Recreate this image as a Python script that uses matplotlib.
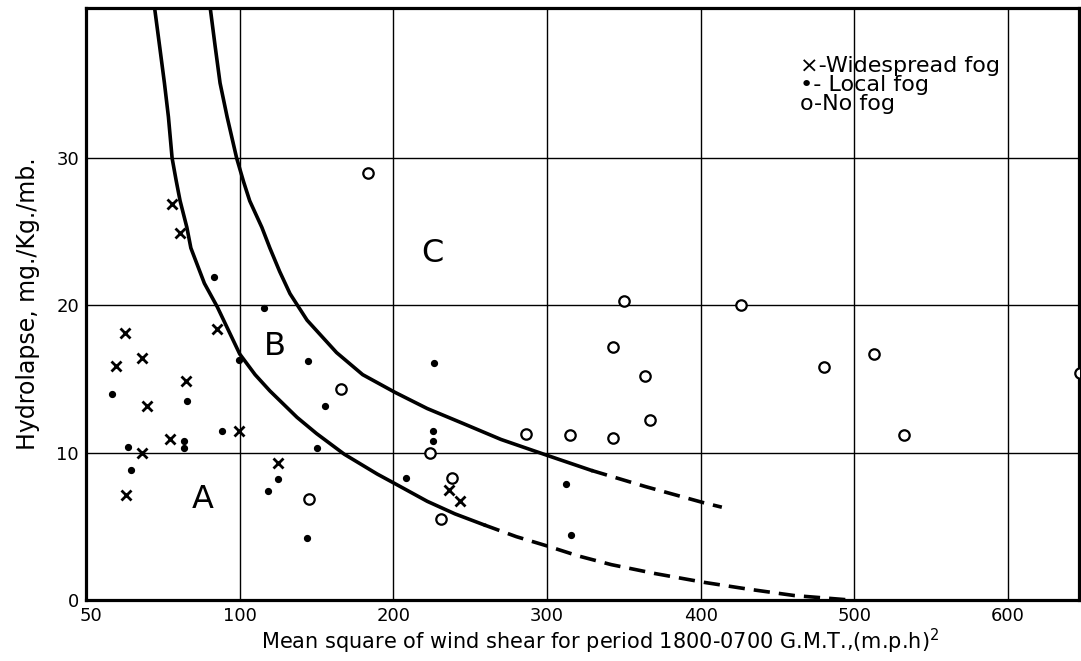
import numpy as np
import matplotlib.pyplot as plt
import matplotlib.transforms as mtrans

plt.rcParams['font.family'] = ['DejaVu Sans']

# observations (wind shear, hydrolapse)
wide_x = [62.7, 59.6, 68.2, 69.7, 82.5, 99.7, 77.4, 68.2, 63.1, 92.7, 78.0, 80.6, 124.8, 236.0, 243.5]
wide_y = [18.1, 15.9, 16.4, 13.2, 14.9, 11.5, 10.9, 10.0, 7.1, 18.4, 26.9, 24.9, 9.3, 7.5, 6.7]

local_x = [58.3, 82.8, 94.3, 81.8, 81.8, 63.7, 64.5, 91.7, 99.7, 115.7, 144.4, 155.6, 150.3,
           124.8, 118.3, 143.8, 226.5, 226.0, 226.0, 208.0, 312.0, 315.5]
local_y = [14.0, 13.5, 11.5, 10.8, 10.3, 10.4, 8.8, 21.9, 16.3, 19.8, 16.2, 13.2, 10.3,
           8.2, 7.4, 4.2, 16.1, 11.5, 10.8, 8.3, 7.9, 4.4]

nofog_x = [350.3, 343.0, 364.0, 367.0, 286.0, 315.0, 343.0, 165.6, 224.0, 238.0, 231.0,
           145.0, 183.5, 647.0, 426.0, 480.0, 513.0, 532.0]
nofog_y = [20.3, 17.2, 15.2, 12.2, 11.3, 11.2, 11.0, 14.3, 10.0, 8.3, 5.5,
           6.85, 29.0, 15.4, 20.0, 15.8, 16.7, 11.2]

# boundary curves
lower_x = [72.3, 74.0, 75.5, 76.8, 78.0, 79.3, 80.6, 82.8, 84.1, 88.5, 92.7, 100, 110, 119.6, 137.3,
           150, 168, 189.5, 201, 222, 240, 259]
lower_y = [40.2, 37.5, 35.1, 32.8, 30.0, 28.5, 27.1, 25.3, 23.9, 21.5, 19.9, 16.7, 15.3, 14.2, 12.4,
           11.3, 9.9, 8.55, 7.9, 6.7, 5.85, 5.1]
lower_dx = [259, 280, 300.6, 320, 341.8, 370, 402, 430, 461, 497]
lower_dy = [5.1, 4.3, 3.65, 3.0, 2.4, 1.8, 1.2, 0.75, 0.3, 0.0]

upper_x = [90.4, 92.0, 93.6, 95.9, 99.0, 102.5, 106.5, 114.4, 119.6, 126, 132.7, 143.8, 163, 180,
           201, 222, 245, 270, 300.6, 328.8]
upper_y = [40.2, 37.6, 35.1, 32.8, 30.0, 28.4, 27.1, 25.3, 23.9, 22.3, 20.8, 19.0, 16.8, 15.3,
           14.1, 13.0, 12.0, 10.9, 9.8, 8.8]
upper_dx = [328.8, 364, 402, 413.7]
upper_dy = [8.8, 7.7, 6.6, 6.3]

key_lines = ['×-Widespread fog', '•- Local fog', 'o-No fog']

xticks = [50, 100, 200, 300, 400, 500, 600]
yticks = [0, 10, 20, 30]


# 50-100 is squeezed into the same width as 100 units further on
def fwd(x):
    x = np.asarray(x, dtype=float)
    return np.where(x < 100, (x - 50) * 2, x)


def inv(p):
    p = np.asarray(p, dtype=float)
    return np.where(p < 100, p / 2 + 50, p)


fig = plt.figure(figsize=(10.81, 6.61), dpi=100)
ax = fig.add_axes([0.0796, 0.0923, 0.9184, 0.8957])
ax.set_xscale('function', functions=(fwd, inv))
ax.set_xlim(50, 646)
ax.set_ylim(0, 40.2)

for x in xticks[1:]:
    ax.axvline(x, color='black', lw=1.0, zorder=1)
for y in yticks[1:]:
    ax.axhline(y, color='black', lw=1.0, zorder=1)

ax.plot(lower_x, lower_y, color='black', lw=2.6, zorder=3)
ax.plot(lower_dx, lower_dy, color='black', lw=2.6, dashes=(4.5, 2.5), zorder=3)
ax.plot(upper_x, upper_y, color='black', lw=2.6, zorder=3)
ax.plot(upper_dx, upper_dy, color='black', lw=2.6, dashes=(4.5, 2.5), zorder=3)

ax.plot(wide_x, wide_y, 'x', color='black', ms=6.5, mew=2.0, zorder=4)
ax.plot(local_x, local_y, 'o', color='black', ms=4.2, zorder=4)
ax.plot(nofog_x, nofog_y, 'o', mfc='white', mec='black', ms=7.5, mew=1.6, zorder=4)

ax.text(87.9, 6.8, 'A', fontsize=23, ha='center', va='center')
ax.text(122.9, 17.2, 'B', fontsize=23, ha='center', va='center')
ax.text(225.5, 23.5, 'C', fontsize=23, ha='center', va='center')

# key, as lettered in the corner
ax.text(0.719, 0.87, '\n'.join(key_lines), transform=ax.transAxes, fontsize=16,
        va='center', ha='left', linespacing=0.95)

ax.set_xticks(xticks)
ax.set_xticklabels([str(t) for t in xticks])
ax.set_yticks(yticks)
ax.tick_params(length=0, labelsize=13)
ax.tick_params(axis='x', pad=5)
ax.tick_params(axis='y', pad=5)
# the "50" sits a little right of the corner, clear of the "0"
lab50 = ax.get_xticklabels()[0]
lab50.set_transform(lab50.get_transform() + mtrans.ScaledTranslation(5 / 100, 0, fig.dpi_scale_trans))

for s in ax.spines.values():
    s.set_linewidth(2.3)

ax.set_xlabel('Mean square of wind shear for period 1800-0700 G.M.T.,(m.p.h)$^2$', fontsize=15)
ax.xaxis.set_label_coords(0.518, -0.046)
ax.set_ylabel('Hydrolapse, mg./Kg./mb.', fontsize=17, labelpad=12)

fig.savefig('out.png', dpi=100)
